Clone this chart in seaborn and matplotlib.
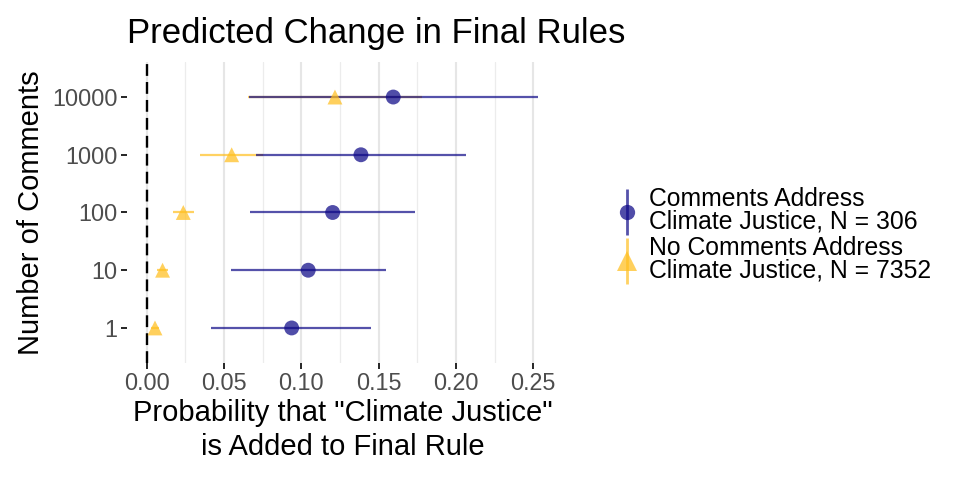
import numpy as np
import pandas as pd
import matplotlib
matplotlib.use("Agg")
import matplotlib.pyplot as plt
import seaborn as sns
from matplotlib.lines import Line2D
from matplotlib.legend_handler import HandlerTuple

sns.set_theme(style="white")
plt.rcParams['font.family'] = ['Liberation Sans', 'DejaVu Sans']
plt.rcParams['text.color'] = 'black'

# data
comments = ["1", "10", "100", "1000", "10000"]
cj_est = [0.0938, 0.1045, 0.1203, 0.1386, 0.1595]
cj_lo = [0.0418, 0.0545, 0.0668, 0.0707, 0.0660]
cj_hi = [0.1453, 0.1545, 0.1737, 0.2065, 0.2532]
no_est = [0.0054, 0.0103, 0.0237, 0.0550, 0.1218]
no_lo = [0.0030, 0.0070, 0.0168, 0.0345, 0.0657]
no_hi = [0.0080, 0.0140, 0.0308, 0.0754, 0.1784]

lab_cj = "Comments Address\nClimate Justice, N = 306"
lab_no = "No Comments Address\nClimate Justice, N = 7352"

blue = "#0d0887"
gold = "#ffbf1f"

df = pd.concat([
    pd.DataFrame({"comments": comments, "est": cj_est, "lo": cj_lo, "hi": cj_hi, "group": lab_cj}),
    pd.DataFrame({"comments": comments, "est": no_est, "lo": no_lo, "hi": no_hi, "group": lab_no}),
])
df["ypos"] = df["comments"].map({c: i for i, c in enumerate(comments)})

fig = plt.figure(figsize=(9.6, 4.8), dpi=100)
ax = fig.add_axes([0.1323, 0.2446, 0.4487, 0.6254])

# grid
for v in np.arange(0, 0.2501, 0.05):
    ax.axvline(v, color="#e6e6e6", lw=1.5, zorder=0)
for v in np.arange(0.025, 0.26, 0.05):
    ax.axvline(v, color="#ececec", lw=0.9, zorder=0)

ax.axvline(0, color="black", lw=1.7, ls=(0, (5, 2.6)), zorder=1)

# intervals: gold first, then blue
no = df[df["group"] == lab_no]
cj = df[df["group"] == lab_cj]
ax.hlines(no["ypos"], no["lo"], no["hi"], color=gold, alpha=0.7, lw=1.6, zorder=2)
ax.hlines(cj["ypos"], cj["lo"], cj["hi"], color=blue, alpha=0.7, lw=1.6, zorder=3)

sns.scatterplot(data=df, x="est", y="ypos", hue="group", style="group",
                hue_order=[lab_cj, lab_no], style_order=[lab_cj, lab_no],
                palette=[blue, gold], markers=["o", "^"], s=115, linewidth=0,
                alpha=0.72, legend=False, ax=ax, zorder=4)

ax.set_xlim(-0.0127, 0.2659)
ax.set_ylim(-0.6, 4.6)
ax.set_xticks(np.arange(0, 0.2501, 0.05))
ax.set_xticklabels([f"{v:.2f}" for v in np.arange(0, 0.2501, 0.05)])
ax.set_yticks(range(len(comments)))
ax.set_yticklabels(comments)
ax.tick_params(axis="both", length=4, width=1.2, color="black", labelsize=16.8,
               labelcolor="#4d4d4d", pad=3, left=True, bottom=True)
for s in ax.spines.values():
    s.set_visible(False)

ax.set_xlabel('Probability that "Climate Justice"\nis Added to Final Rule', fontsize=21,
              color="black", labelpad=3, linespacing=1.25)
ax.set_ylabel("Number of Comments", fontsize=21, color="black", labelpad=5)
ax.set_title("Predicted Change in Final Rules", fontsize=25, loc="left", pad=9, x=0.0,
             color="black", va="bottom")

h_cj = (Line2D([], [], color=blue, alpha=0.7, marker="|", ms=33, mew=2, ls="none"),
        Line2D([], [], color=blue, alpha=0.72, marker="o", ms=11, mew=0, ls="none"))
h_no = (Line2D([], [], color=gold, alpha=0.7, marker="|", ms=33, mew=2, ls="none"),
        Line2D([], [], color=gold, alpha=0.72, marker="^", ms=14, mew=0, ls="none"))
leg = fig.legend([h_cj, h_no], [lab_cj, lab_no], handler_map={tuple: HandlerTuple(ndivide=1)},
                 loc="center left", bbox_to_anchor=(0.64, 0.51), frameon=False,
                 fontsize=17.8, handlelength=1.0, handletextpad=0.4, labelspacing=0.1,
                 borderpad=0, borderaxespad=0)
for t in leg.get_texts():
    t.set_linespacing(0.92)

fig.savefig("out.png", dpi=100)
